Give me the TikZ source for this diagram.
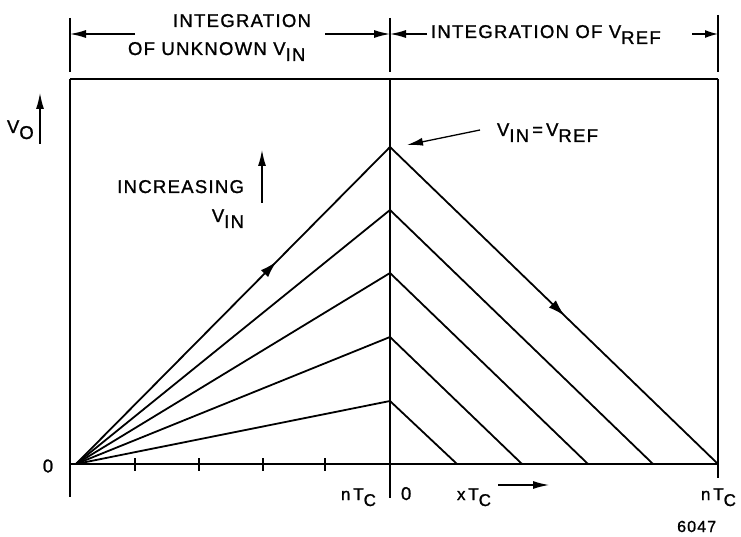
\documentclass[tikz,border=0pt]{standalone}
\usepackage{fontspec}
\setmainfont{Liberation Sans}[LetterSpace=7,FakeBold=1.2]
\usetikzlibrary{arrows.meta,decorations.markings}
\newcommand{\sbx}[1]{\raisebox{-6pt}{#1}}
\begin{document}
\begin{tikzpicture}[x=1pt,y=-1pt,
  lbl/.style={font=\fontsize{18.5}{20}\selectfont, inner sep=0pt, outer sep=0pt},
  sml/.style={font=\fontsize{17}{19}\selectfont, inner sep=0pt, outer sep=0pt},
  dimarr/.style={-{Latex[length=16pt,width=8pt]}, line width=1.3pt},
  curve/.style={line width=1.8pt},
  frame/.style={line width=1.5pt},
  midarrow/.style={postaction={decorate}, decoration={markings, mark=at position #1 with {\arrow{Latex[length=17pt,width=10pt]}}}}
]
\useasboundingbox (0,0) rectangle (741,537);
% frame
\coordinate (TL) at (70,79); \coordinate (TR) at (718,79); \coordinate (TM) at (390,79);
\coordinate (BL) at (70,497); \coordinate (BM) at (390,498); \coordinate (BR) at (718,478);
\coordinate (AL) at (70,464); \coordinate (AR) at (718,464);
\draw[frame] (TL) -- (TR);
\draw[frame] (TL) -- (BL);
\draw[frame] (TM) -- (BM);
\draw[frame] (TR) -- (BR);
\draw[curve] (AL) -- (AR);
% top extension lines
\coordinate (uL1) at (70,18); \coordinate (uL2) at (70,72);
\coordinate (uM1) at (390,18); \coordinate (uM2) at (390,72);
\coordinate (uR1) at (718,15); \coordinate (uR2) at (718,72);
\draw[frame] (uL1) -- (uL2);
\draw[frame] (uM1) -- (uM2);
\draw[frame] (uR1) -- (uR2);
% dimension arrows
\coordinate (d1s) at (135,34); \coordinate (d1e) at (70,34);
\coordinate (d2s) at (325,34); \coordinate (d2e) at (390,34);
\coordinate (d3s) at (427,34); \coordinate (d3e) at (390,34);
\coordinate (d4s) at (692,34); \coordinate (d4e) at (718,34);
\draw[dimarr] (d1s) -- (d1e);
\draw[dimarr] (d2s) -- (d2e);
\draw[dimarr] (d3s) -- (d3e);
\draw[dimarr,-{Latex[length=13pt,width=8pt]}] (d4s) -- (d4e);
\node[lbl, anchor=base] (t1) at (242,27) {INTEGRATION};
\node[lbl, anchor=base west] (t2) at (128,55) {OF UNKNOWN V\sbx{IN}};
\node[lbl, anchor=base west] (t3) at (431,38) {INTEGRATION OF V\sbx{REF}};
% ticks
\foreach \x [count=\i] in {135,199,263,325} {
  \coordinate (k\i a) at (\x,458); \coordinate (k\i b) at (\x,471);
  \draw[frame] (k\i a) -- (k\i b);
}
% curves
\coordinate (O) at (76,464);
\coordinate (P1) at (390,401); \coordinate (E1) at (457,464);
\coordinate (P2) at (390,337); \coordinate (E2) at (522,464);
\coordinate (P3) at (390,273); \coordinate (E3) at (588,464);
\coordinate (P4) at (390,210); \coordinate (E4) at (653,464);
\coordinate (P5) at (390,147); \coordinate (E5) at (718,464);
\draw[curve] (O) -- (P1) -- (E1);
\draw[curve] (O) -- (P2) -- (E2);
\draw[curve] (O) -- (P3) -- (E3);
\draw[curve] (O) -- (P4) -- (E4);
\draw[curve, midarrow=285pt] (O) -- (P5);
\draw[curve, midarrow=243pt] (P5) -- (E5);
% V_O axis label
\node[lbl, anchor=base west] (vo) at (7,133) {V\sbx{O}};
\coordinate (va1) at (40,144); \coordinate (va2) at (40,93);
\draw[dimarr] (va1) -- (va2);
% increasing V_IN
\node[lbl, anchor=base east] (inc) at (244,193) {INCREASING};
\node[lbl, anchor=base east] (vin) at (244,222) {V\sbx{IN}};
\coordinate (ia1) at (262,203); \coordinate (ia2) at (262,150);
\draw[dimarr] (ia1) -- (ia2);
% V_IN = V_REF
\node[lbl, anchor=base west] (eq) at (497,136) {V\sbx{IN}\,=\,V\sbx{REF}};
\coordinate (ea1) at (480,130);
\draw[dimarr] (ea1) -- (407,145);
% axis labels
\node[lbl, anchor=center] (z0) at (48,466) {0};
\node[sml, anchor=base west] (nt1) at (341,500) {n\,T\sbx{C}};
\node[lbl, anchor=base west] (z1) at (401,500) {0};
\node[sml, anchor=base west] (xt) at (457,500) {x\,T\sbx{C}};
\coordinate (xa1) at (498,485); \coordinate (xa2) at (549,485);
\draw[dimarr] (xa1) -- (xa2);
\node[sml, anchor=base west] (nt2) at (701,500) {n\,T\sbx{C}};
\node[font=\fontsize{16}{18}\selectfont, inner sep=0pt, anchor=base west] (fig) at (677,532) {6047};
\end{tikzpicture}
\end{document}
